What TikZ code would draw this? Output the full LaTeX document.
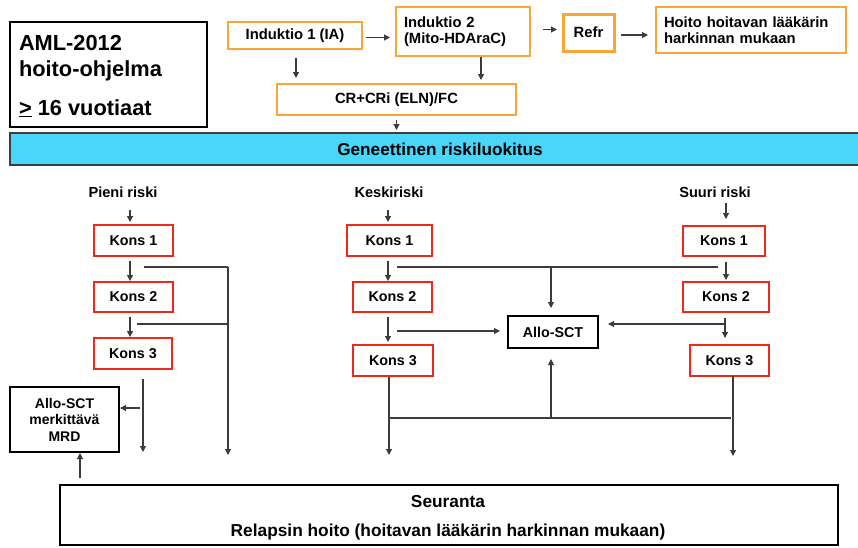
\documentclass[tikz,border=0pt]{standalone}
\usepackage{fontspec}
\setmainfont{Liberation Sans}
\usetikzlibrary{arrows.meta,calc}
\definecolor{boxorange}{RGB}{248,165,58}
\definecolor{boxred}{RGB}{240,40,28}
\definecolor{barcyan}{RGB}{72,214,250}
\definecolor{linegray}{RGB}{60,60,60}
\tikzset{
  every node/.style={inner sep=0pt, outer sep=0pt},
  obox/.style={draw=boxorange, line width=2.3pt, fill=white, font=\fontsize{14.8}{16.5}\selectfont\bfseries},
  rbox/.style={draw=boxred, line width=2.3pt, fill=white, font=\fontsize{14.3}{16}\selectfont\bfseries},
  kbox/.style={draw=black, line width=2.3pt, fill=white, font=\fontsize{14.3}{16}\selectfont\bfseries},
  lbl/.style={font=\fontsize{14.6}{16}\selectfont\bfseries},
  amltext/.style={anchor=base west, font=\fontsize{21.8}{26}\selectfont\bfseries},
  arr/.style={draw=linegray, line width=1.1pt, -{Triangle[length=6pt,width=6pt]}},
  ln/.style={draw=linegray, line width=1.1pt},
}
\begin{document}
\begin{tikzpicture}[x=1pt,y=-1pt]
\useasboundingbox (0,0) rectangle (858,547);
% top section
\node[kbox, line width=2.4pt, minimum width=197, minimum height=105] (aml) at (108.5,74.5) {};
\node[amltext] (aml1) at (19,50) {AML-2012};
\node[amltext] (aml2) at (19,76) {hoito-ohjelma};
\node[amltext] (aml3) at (19,115) {\underline{>}~16 vuotiaat};
\node[obox, minimum width=134, minimum height=27] (ind1) at (295,35.5) {Induktio 1 (IA)};
\node[obox, minimum width=134, minimum height=49, text width=118, inner xsep=8pt, align=left] (ind2) at (463,31.5) {Induktio 2\\(Mito-HDAraC)};
\node[obox, line width=3pt, minimum width=51, minimum height=37] (refr) at (588.5,32.5) {Refr};
\node[obox, minimum width=190, minimum height=46, text width=174, inner xsep=8pt, align=left] (hoito) at (751,30) {Hoito hoitavan lääkärin\\harkinnan mukaan};
\node[obox, minimum width=239, minimum height=31] (cr) at (396.5,99.5) {CR+CRi (ELN)/FC};
\node[draw=linegray, line width=1.5pt, fill=barcyan, minimum width=852, minimum height=32,
  font=\fontsize{17.2}{19}\selectfont\bfseries] (bar) at (436,149) {\hspace*{8pt}Geneettinen riskiluokitus};

\draw[arr] ($(ind1.east)+(4,2)$) -- ($(ind1.east -| ind2.west)+(-6,2)$);
\draw[arr] ($(ind2.east)+(13,-2)$) -- ($(ind2.east -| refr.west)+(-6,-2)$);
\draw[arr] ($(refr.east)+(7,2.5)$) -- ($(refr.east -| hoito.west)+(-8,2.5)$);
\coordinate (i1x) at (296,0);
\coordinate (i2x) at (481,0);
\draw[arr, shorten <=9pt, shorten >=6pt] (ind1.south -| i1x) -- (cr.north -| i1x);
\draw[arr, shorten <=1pt, shorten >=4pt] (ind2.south -| i2x) -- (cr.north -| i2x);
\draw[arr, shorten <=5pt, shorten >=3pt] (cr.south) -- (bar.north -| cr.south);

% risk labels
\node[lbl] (pieni) at (123,192) {Pieni riski};
\node[lbl] (keski) at (389,192) {Keskiriski};
\node[lbl] (suuri) at (715,192) {Suuri riski};

% left column
\node[rbox, minimum width=79, minimum height=31] (k1l) at (133.5,240.5) {Kons 1};
\node[rbox, minimum width=79, minimum height=30] (k2l) at (133.5,297) {Kons 2};
\node[rbox, minimum width=78, minimum height=31] (k3l) at (133,353.5) {Kons 3};
\node[kbox, minimum width=109, minimum height=65, align=center, font=\fontsize{14}{16.5}\selectfont\bfseries] (allol) at (64.5,419.5) {Allo-SCT\\merkittävä\\MRD};

% middle column
\node[rbox, minimum width=85, minimum height=31] (k1m) at (389.5,240.5) {Kons 1};
\node[rbox, minimum width=79, minimum height=30] (k2m) at (392.5,297) {Kons 2};
\node[rbox, minimum width=80, minimum height=31] (k3m) at (393,360.5) {Kons 3};
\node[kbox, minimum width=90, minimum height=32] (allom) at (553,332) {Allo-SCT};

% right column
\node[rbox, minimum width=82, minimum height=30] (k1r) at (724,241) {Kons 1};
\node[rbox, minimum width=86, minimum height=30] (k2r) at (726,297) {Kons 2};
\node[rbox, minimum width=79, minimum height=31] (k3r) at (729.5,360.5) {Kons 3};

% follow-up box
\node[kbox, line width=2.8pt, minimum width=778, minimum height=60] (seur) at (449,515) {};
\node[font=\fontsize{17.3}{19}\selectfont\bfseries] (seur1) at (448,502) {Seuranta};
\node[font=\fontsize{17.3}{19}\selectfont\bfseries] (seur2) at (448,532) {Relapsin hoito (hoitavan lääkärin harkinnan mukaan)};

% ---- connectors left
\coordinate (xl) at (130,0);
\coordinate (la) at (144,267);
\coordinate (lb) at (137,324);
\coordinate (lc) at (228,267);
\coordinate (ld) at (228,455);
\coordinate (le) at (143,379);
\coordinate (lf) at (143,452);
\coordinate (lg) at (140,408);
\coordinate (lh) at (80,478);
\draw[arr, shorten <=13pt, shorten >=3pt] (pieni.south -| xl) -- (k1l.north -| xl);
\draw[arr, shorten <=5pt, shorten >=1pt] (k1l.south -| xl) -- (k2l.north -| xl);
\draw[arr, shorten <=5pt, shorten >=1pt] (k2l.south -| xl) -- (k3l.north -| xl);
\draw[ln] (la) -- (lc);
\draw[arr] (lc) -- (ld);
\draw[ln] (lb) -- (lb -| lc);
\draw[arr] (le) -- (lf);
\draw[arr, shorten >=1pt] (lg) -- (allol.east |- lg);
\draw[arr, shorten >=1pt] (lh) -- (allol.south -| lh);

% ---- connectors middle
\coordinate (xm) at (388,0);
\coordinate (ma) at (397,267);
\coordinate (mb) at (718,267);
\coordinate (mc) at (551,267);
\coordinate (md) at (397,331);
\coordinate (me) at (389,377);
\coordinate (mf) at (389,455);
\coordinate (mg) at (389,418);
\coordinate (mh) at (731,418);
\coordinate (mi) at (551,418);
\coordinate (mj) at (551,359);
\draw[arr, shorten <=13pt, shorten >=3pt] (keski.south -| xm) -- (k1m.north -| xm);
\draw[arr, shorten <=5pt, shorten >=1pt] (k1m.south -| xm) -- (k2m.north -| xm);
\draw[arr, shorten <=5pt, shorten >=3pt] (k2m.south -| xm) -- (k3m.north -| xm);
\draw[ln] (ma) -- (mb);
\draw[arr, shorten >=8pt] (mc) -- (allom.north -| mc);
\draw[arr, shorten >=8pt] (md) -- (allom.west |- md);
\draw[arr] (me) -- (mf);
\draw[ln] (mg) -- (mh);
\draw[arr] (mi) -- (mj);

% ---- connectors right
\coordinate (xr) at (726,0);
\coordinate (xr2) at (725,0);
\coordinate (ra) at (725,324);
\coordinate (rb) at (733,376);
\coordinate (rc) at (733,456);
\draw[arr, shorten <=6pt, shorten >=7pt] (suuri.south -| xr) -- (k1r.north -| xr);
\draw[arr, shorten <=6pt, shorten >=2pt] (k1r.south -| xr) -- (k2r.north -| xr);
\draw[arr, shorten <=6pt, shorten >=7pt] (k2r.south -| xr2) -- (k3r.north -| xr2);
\draw[arr, shorten >=10pt] (ra) -- (allom.east |- ra);
\draw[arr] (rb) -- (rc);
\end{tikzpicture}
\end{document}
